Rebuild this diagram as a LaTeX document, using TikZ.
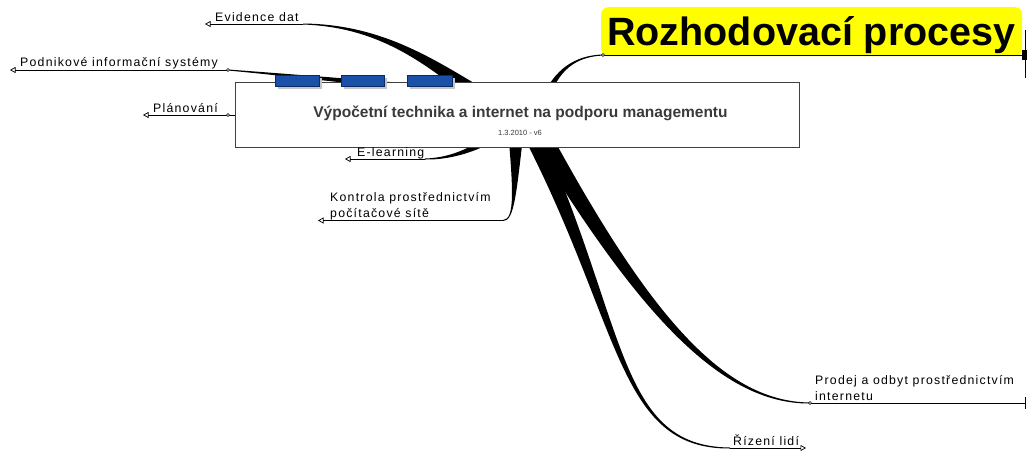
\documentclass[tikz,border=0pt]{standalone}
\usepackage{fontspec}
\setmainfont{Liberation Sans}
\newfontfamily\lblfont[LetterSpace=10]{Liberation Sans}
\usetikzlibrary{arrows.meta,calc}
\definecolor{topicblue}{HTML}{1A50A8}
\definecolor{topicedge}{HTML}{0A2A66}
\definecolor{shadowgray}{HTML}{C4C4C4}
\definecolor{boxedge}{HTML}{404040}
\definecolor{titlegray}{HTML}{3A3A3A}
\definecolor{hiyellow}{HTML}{FFFF00}
\tikzset{
  lbl/.style={font=\lblfont\fontsize{12.3}{14}\selectfont, inner sep=0pt, anchor=base west},
  subline/.style={line width=0.8pt, black},
  openarrow/.style={-{Triangle[open,length=5.5pt,width=6pt,line width=0.7pt]}},
  joint/.style={circle, draw=black, fill=white, line width=0.5pt, inner sep=0pt, minimum size=3pt},
  bluetab/.style={draw=topicedge, fill=topicblue, line width=0.6pt},
}
% tapered branch: start, c1, c2, end, half widths at start, c1, c2
\newcommand\taper[7]{%
  \fill let \p0=(#1), \p1=(#2), \p2=(#3), \p3=(#4),
    \n1={atan2(\y1-\y0,\x1-\x0)}, \n2={atan2(\y3-\y2,\x3-\x2)} in
    ($(\p0)+({\n1+90}:#5)$) .. controls ($(\p1)+({\n1+90}:#6)$) and ($(\p2)+({\n2+90}:#7)$) ..
    ($(\p3)+({\n2+90}:0.5pt)$) -- ($(\p3)+({\n2-90}:0.5pt)$) .. controls ($(\p2)+({\n2-90}:#7)$) and ($(\p1)+({\n1-90}:#6)$) ..
    ($(\p0)+({\n1-90}:#5)$) -- cycle;}
\begin{document}
\begin{tikzpicture}[x=1pt,y=-1pt]
\useasboundingbox (0,0) rectangle (1027,453);

% junction coordinates
\coordinate (evEnd) at (303,24);
\coordinate (evTip) at (205,24);
\coordinate (pisEnd) at (228,70);
\coordinate (pisTip) at (10,70);
\coordinate (plEnd) at (228,115);
\coordinate (plTip) at (143,115);
\coordinate (elEnd) at (425,159);
\coordinate (elTip) at (345,159);
\coordinate (koEnd) at (503,220.5);
\coordinate (koTip) at (318,220.5);
\coordinate (rzEnd) at (603,55);
\coordinate (rzRight) at (1025,55);
\coordinate (prEnd) at (810,403);
\coordinate (prRight) at (1025,403);
\coordinate (riEnd) at (730,448);
\coordinate (riTip) at (806,448);

% tapered branches (behind the central box)
\taper{500,110}{440,70}{390,26}{evEnd}{10pt}{5pt}{1.5pt}
\taper{520,97}{420,88}{300,76}{pisEnd}{5pt}{3.5pt}{1.2pt}
\taper{510,120}{490,145}{455,159}{elEnd}{7pt}{4pt}{1.2pt}
\taper{516,120}{515,190}{515,220.5}{koEnd}{9pt}{1.5pt}{1pt}
\taper{525,120}{625,320}{615,448}{riEnd}{9pt}{3pt}{1.4pt}
\taper{532,120}{640,310}{720,403}{prEnd}{10pt}{4.5pt}{1.3pt}
\taper{545,100}{556,70}{575,56}{rzEnd}{3.5pt}{2pt}{0.8pt}
\draw[subline] (plEnd) -- (300,115);

% leaf lines
\draw[subline,openarrow] (evEnd) -- (evTip);
\draw[subline,openarrow] (pisEnd) -- (pisTip);
\draw[subline,openarrow] (plEnd) -- (plTip);
\draw[subline,openarrow] (elEnd) -- (elTip);
\draw[subline,openarrow] (koEnd) -- (koTip);
\draw[subline,openarrow] (riEnd) -- (riTip);
\draw[subline] (prEnd) -- (prRight);
\draw[line width=1pt] (1025.5,397) -- (1025.5,409);

% Rozhodovaci procesy
\node[fill=hiyellow, rounded corners=7pt, minimum width=421pt, minimum height=49pt, inner sep=0pt, anchor=north west] (rozbox) at (601,7) {};
\node[font=\bfseries\fontsize{39.5}{44}\selectfont, anchor=base west, inner sep=0pt] (roz) at (607,45) {Rozhodovací procesy};
\draw[subline] (rzEnd) -- (rzRight);
\draw[line width=1pt] (1025.5,30) -- (1025.5,78);
\fill (1022,50) rectangle (1027,60);

% central box
\node[draw=boxedge, fill=white, line width=1.2pt, minimum width=564pt, minimum height=65pt, inner sep=0pt, anchor=north west] (center) at (235,82) {};
\node[font=\bfseries\fontsize{15.5}{18}\selectfont, text=titlegray, inner sep=0pt] (title) at (520.5,113) {Výpočetní technika a internet na podporu managementu};
\node[font=\fontsize{7.5}{9}\selectfont, text=titlegray, inner sep=0pt] (sub) at (520,133) {1.3.2010 - v6};

% blue tabs with shadows
\foreach \a/\b in {275/319, 341/384, 407/452}{
  \fill[shadowgray] (\a+2.5,77.5) rectangle (\b+2.5,88.5);
  \draw[bluetab] (\a,75) rectangle (\b,86);
}

% junction circles
\node[joint] (j1) at (pisEnd) {};
\node[joint] (j2) at (plEnd) {};
\node[joint] (j3) at (prEnd) {};
\node[joint] (j4) at (rzEnd) {};

% labels
\node[lbl] (lev) at (215,21) {Evidence dat};
\node[lbl] (lpis) at (20,66) {Podnikové informační systémy};
\node[lbl] (lpl) at (153,112) {Plánování};
\node[lbl] (lel) at (357,156) {E-learning};
\node[lbl] (lko1) at (330,201) {Kontrola prostřednictvím};
\node[lbl] (lko2) at (330,217) {počítačové sítě};
\node[lbl] (lpr1) at (815,384) {Prodej a odbyt prostřednictvím};
\node[lbl] (lpr2) at (815,400) {internetu};
\node[lbl] (lri) at (733,445) {Řízení lidí};
\end{tikzpicture}
\end{document}
